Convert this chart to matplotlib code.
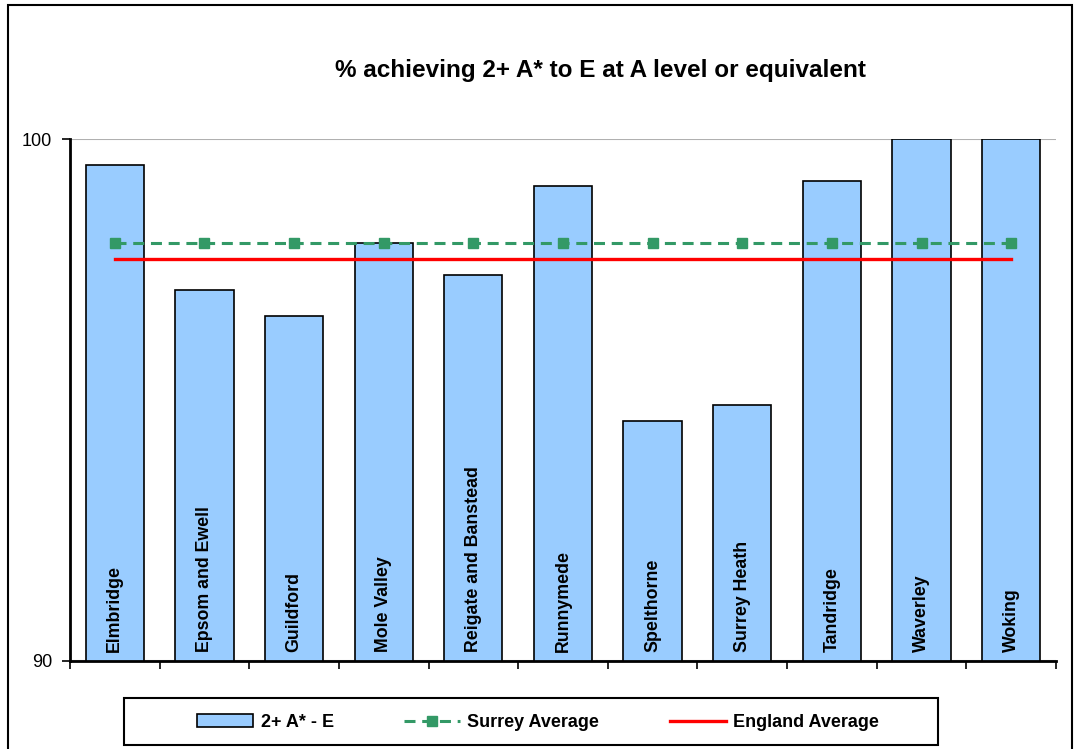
import matplotlib.pyplot as plt
import numpy as np
from matplotlib.patches import Rectangle

plt.rcParams['font.family'] = ['Liberation Sans', 'DejaVu Sans']

# Districts and results
districts = ["Elmbridge", "Epsom and Ewell", "Guildford", "Mole Valley",
             "Reigate and Banstead", "Runnymede", "Spelthorne", "Surrey Heath",
             "Tandridge", "Waverley", "Woking"]
pct_2_a_e = [99.5, 97.1, 96.6, 98.0, 97.4, 99.1, 94.6, 94.9, 99.2, 100.0, 100.0]
surrey_avg = [98.0] * len(districts)
england_avg = [97.7] * len(districts)

fig = plt.figure(figsize=(10.74, 7.49), dpi=100)
ax = fig.add_axes([0.0652, 0.1175, 0.9180, 0.6969])

x = np.arange(len(districts))
ax.bar(x, pct_2_a_e, width=0.65, color="#99CCFF", edgecolor="black",
       linewidth=1.2, label="2+ A* - E", zorder=2)
ax.plot(x, surrey_avg, color="#339966", linestyle=(0, (3.6, 2.2)), linewidth=2.2,
        marker="s", markersize=7, label="Surrey Average", zorder=4)
ax.plot(x, england_avg, color="#FF0000", linewidth=2.4,
        label="England Average", zorder=3)

# district names written inside the bars
for xi, name in zip(x, districts):
    ax.text(xi, 90.18, name, rotation=90, ha="center", va="bottom",
            fontsize=12.8, fontweight="bold", zorder=5)

ax.set_xlim(-0.5, len(districts) - 0.5)
ax.set_ylim(90, 100)
ax.set_yticks([90, 100])
ax.tick_params(axis="y", labelsize=13, length=6, width=1.2, direction="out", pad=7)
ax.set_xticks(np.arange(-0.5, len(districts), 1.0))
ax.set_xticklabels([])
ax.tick_params(axis="x", length=6, width=1.2, direction="out")
ax.yaxis.grid(True, color="#B0B0B0", linewidth=1.5, zorder=0)
ax.set_axisbelow(True)
for side in ["top", "right"]:
    ax.spines[side].set_visible(False)
for side in ["left", "bottom"]:
    ax.spines[side].set_linewidth(2)

fig.text(0.5587, 0.9065, "% achieving 2+ A* to E at A level or equivalent",
         ha="center", va="center", fontsize=17.5, fontweight="bold")

# legend with its own box below the plot
fig.patches.append(Rectangle((124 / 1074, 1 - 745 / 749), 814 / 1074, 47 / 749,
                             transform=fig.transFigure, fill=False,
                             edgecolor="black", linewidth=1.5))
handles, labels = ax.get_legend_handles_labels()
order = [2, 0, 1]
fig.legend([handles[i] for i in order], [labels[i] for i in order],
           loc="center", bbox_to_anchor=(538 / 1074, 1 - 722.5 / 749),
           ncol=3, frameon=False, prop={"size": 13, "weight": "bold"},
           handlelength=3.1, handletextpad=0.4, columnspacing=3.9)

# outer border around the whole chart
fig.patches.append(Rectangle((0.0075, -0.01), 0.9905, 1.003, transform=fig.transFigure,
                             fill=False, edgecolor="black", linewidth=1.5))

fig.savefig("out.png", dpi=100)
